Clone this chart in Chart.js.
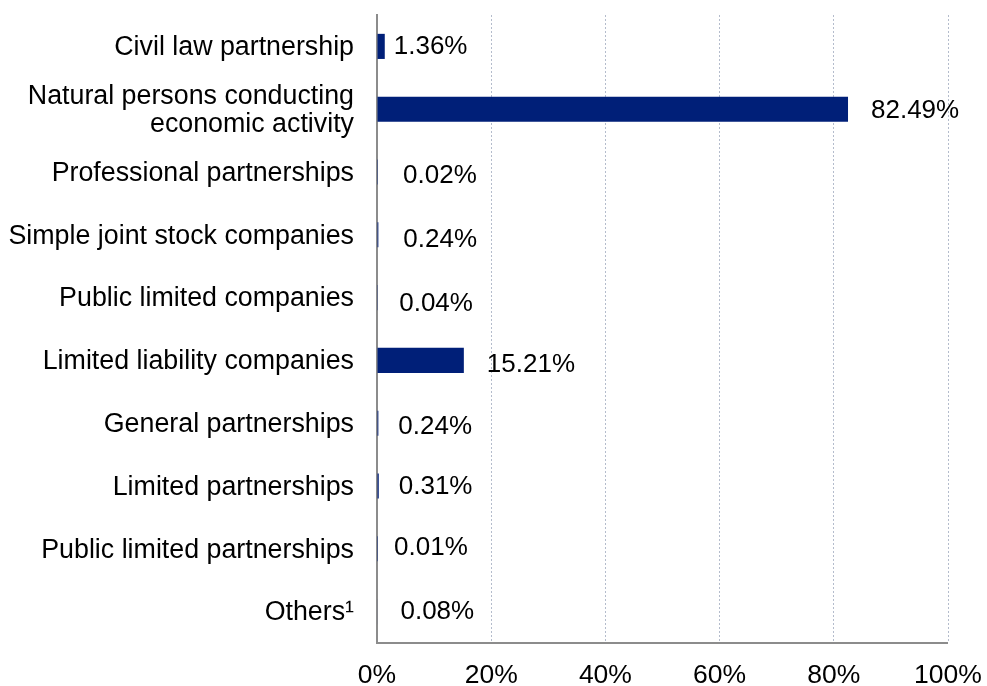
<!DOCTYPE html>
<html>
<head>
<meta charset="utf-8">
<script src="https://cdn.jsdelivr.net/npm/chart.js@4/dist/chart.umd.min.js"></script>
<style>
  html, body { margin: 0; padding: 0; background: #fff; }
  #chart { display: block; }
</style>
</head>
<body>
<canvas id="chart" width="987" height="686"></canvas>
<script>
const categories = [
  "Civil law partnership",
  ["Natural persons conducting", "economic activity"],
  "Professional partnerships",
  "Simple joint stock companies",
  "Public limited companies",
  "Limited liability companies",
  "General partnerships",
  "Limited partnerships",
  "Public limited partnerships",
  "Others¹"
]
const shares = [1.36, 82.49, 0.02, 0.24, 0.04, 15.21, 0.24, 0.31, 0.01, 0.08]
const tickValues = [0, 20, 40, 60, 80, 100]

// small nudges for the value labels, as they sit in the original
const labelGap = [9, 23, 26, 25, 22, 23, 20, 20, 17, 23]
const labelShift = [0, 2, 4, 5, 6, 4, 4, 1, -1, 0]

const FONT = "'Liberation Sans', Arial, sans-serif"

const valueLabels = {
  id: "valueLabels",
  afterDatasetsDraw(chart) {
    const ctx = chart.ctx
    const meta = chart.getDatasetMeta(0)
    ctx.save()
    ctx.font = "26px " + FONT
    ctx.fillStyle = "#000"
    ctx.textAlign = "left"
    ctx.textBaseline = "middle"
    meta.data.forEach((bar, i) => {
      ctx.fillText(shares[i].toFixed(2) + "%", bar.x + labelGap[i], bar.y + labelShift[i])
    })
    ctx.restore()
  }
}

// solid bottom axis line, drawn over the dotted grid
const bottomAxis = {
  id: "bottomAxis",
  afterDraw(chart) {
    const { ctx, chartArea } = chart
    ctx.save()
    ctx.strokeStyle = "#8c8c8c"
    ctx.lineWidth = 2
    ctx.beginPath()
    ctx.moveTo(chartArea.left, chartArea.bottom)
    ctx.lineTo(chartArea.right, chartArea.bottom)
    ctx.stroke()
    ctx.restore()
  }
}

new Chart(document.getElementById("chart"), {
  type: "bar",
  data: {
    labels: categories,
    datasets: [{
      data: shares,
      backgroundColor: "#001f78",
      borderWidth: 0,
      barPercentage: 0.4,
      categoryPercentage: 1
    }]
  },
  options: {
    indexAxis: "y",
    responsive: false,
    animation: false,
    layout: { padding: { top: 15, right: 39, left: 0, bottom: 0 } },
    plugins: {
      legend: { display: false },
      tooltip: { enabled: false }
    },
    scales: {
      x: {
        min: 0,
        max: 100,
        afterBuildTicks: scale => { scale.ticks = tickValues.map(v => ({ value: v })) },
        afterFit: scale => {
          scale.height = 43
          scale.paddingLeft = 0
          scale.paddingRight = 0
        },
        border: { display: false, dash: [2, 2] },
        grid: {
          drawTicks: false,
          color: ctx => ctx.tick && ctx.tick.value === 0 ? "rgba(0,0,0,0)" : "#b4bccc",
          lineWidth: 1
        },
        ticks: {
          padding: 17,
          color: "#000",
          font: { family: FONT, size: 26.5 },
          callback: v => v + "%"
        }
      },
      y: {
        afterFit: scale => {
          scale.width = 377
          scale.paddingTop = 0
          scale.paddingBottom = 0
        },
        border: { display: true, color: "#8c8c8c", width: 2 },
        grid: { display: false, drawTicks: false },
        ticks: {
          padding: 23,
          labelOffset: 1.5,
          color: "#000",
          font: { family: FONT, size: 26.8, lineHeight: 1.05 }
        }
      }
    }
  },
  plugins: [valueLabels, bottomAxis]
})
</script>
</body>
</html>
